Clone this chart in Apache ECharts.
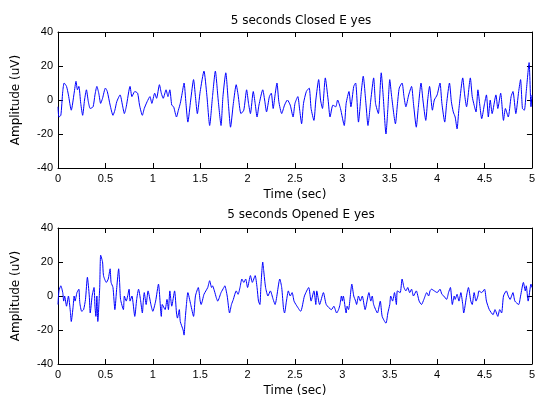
<!DOCTYPE html>
<html>
<head>
<meta charset="utf-8">
<title>EEG</title>
<script src="https://cdn.jsdelivr.net/npm/echarts@6/dist/echarts.min.js"></script>
<style>
    html, body { margin: 0; padding: 0; background: #fff; }
    #main { width: 538px; height: 398px; }
</style>
</head>
<body>
<div id="main"></div>
<script>
// 坐标轴刻度
var timeTicks = [0, 0.5, 1, 1.5, 2, 2.5, 3, 3.5, 4, 4.5, 5];
var ampTicks = [-40, -20, 0, 20, 40];

var titles = ['5 seconds Closed E yes', '5 seconds Opened E yes'];

// 闭眼 [时间(s), 幅值(uV)]
var closedEyes = [
    [0.00, -4], [0.01, -10], [0.03, -9], [0.05, 5], [0.065, 10], [0.09, 8], [0.11, 3], [0.14, -6],
    [0.17, 4], [0.19, 11], [0.205, 6], [0.22, 8], [0.24, -2], [0.26, -9], [0.28, 0], [0.30, 6],
    [0.32, -1], [0.34, -5], [0.37, -4], [0.39, 3], [0.41, 8], [0.43, 4], [0.45, -2], [0.47, 1],
    [0.50, 7], [0.52, 5], [0.55, -3], [0.58, -9], [0.60, -6], [0.62, -1], [0.655, 3], [0.68, -3],
    [0.70, -8], [0.72, -4], [0.76, 8], [0.78, 2], [0.81, 5], [0.84, 4], [0.86, -3], [0.89, -9],
    [0.91, -5], [0.94, -1], [0.97, 2], [0.99, -2], [1.02, 4], [1.04, 1], [1.07, 9], [1.09, 4],
    [1.11, 1], [1.14, 6], [1.16, 2], [1.18, 6], [1.20, -3], [1.22, -4], [1.25, -10], [1.27, -6],
    [1.29, -2], [1.31, 4], [1.33, 10], [1.35, -2], [1.37, -13], [1.40, 0], [1.43, 12], [1.45, 2],
    [1.47, -8], [1.50, 5], [1.54, 17], [1.57, 3], [1.60, -15], [1.63, 2], [1.66, 17], [1.69, 0],
    [1.72, -15], [1.74, 2], [1.77, 16], [1.80, -4], [1.82, -16], [1.85, -2], [1.88, 9], [1.90, 3],
    [1.93, -8], [1.96, -6], [1.99, 6], [2.01, -2], [2.03, -8], [2.06, 5], [2.08, -2], [2.10, -10],
    [2.12, -3], [2.16, 6], [2.18, 0], [2.20, -7], [2.23, 2], [2.25, 4], [2.27, -5], [2.29, 3],
    [2.31, 10], [2.33, -1], [2.36, -8], [2.39, -3], [2.42, 0], [2.45, -3], [2.48, -10], [2.50, -2],
    [2.53, 2], [2.55, -6], [2.57, -14], [2.59, -2], [2.62, 5], [2.65, 7], [2.67, -5], [2.70, -12],
    [2.72, 0], [2.75, 12], [2.77, 0], [2.79, -5], [2.82, 13], [2.85, 0], [2.87, -10], [2.90, -3],
    [2.93, -4], [2.95, 0], [2.98, -5], [3.02, -15], [3.04, -2], [3.07, 5], [3.09, -4], [3.12, 8],
    [3.14, 10], [3.17, -13], [3.20, 5], [3.22, 14], [3.25, -3], [3.27, -15], [3.30, 0], [3.33, 13],
    [3.35, -2], [3.38, -8], [3.41, 16], [3.43, 3], [3.46, -20], [3.48, -5], [3.50, 12], [3.52, 2],
    [3.56, -14], [3.58, -3], [3.60, 7], [3.63, 10], [3.65, 2], [3.67, -4], [3.70, 3], [3.73, 8],
    [3.75, -2], [3.78, -16], [3.80, -5], [3.83, 10], [3.85, 0], [3.88, -12], [3.90, 0], [3.92, 8],
    [3.95, -6], [3.97, 0], [4.00, 3], [4.03, 10], [4.05, -2], [4.08, -13], [4.10, -2], [4.13, 10],
    [4.15, -1], [4.17, -7], [4.19, -10], [4.21, -17], [4.23, -5], [4.27, 13], [4.29, 3], [4.31, -4],
    [4.35, 13], [4.37, 2], [4.39, -3], [4.41, -7], [4.43, 6], [4.45, -3], [4.47, -11], [4.50, -2],
    [4.52, 3], [4.54, -10], [4.56, 0], [4.58, -8], [4.62, 3], [4.64, -5], [4.67, 4], [4.70, -12],
    [4.72, -5], [4.75, -10], [4.78, 2], [4.80, 5], [4.83, -8], [4.86, 5], [4.88, 12], [4.90, -5],
    [4.92, -6], [4.94, 5], [4.97, 22], [4.99, -4], [5.00, 3]
];

// 睁眼 [时间(s), 幅值(uV)]
var openedEyes = [
    [0.00, -5], [0.01, 3], [0.03, 6], [0.05, 2], [0.06, -3], [0.07, 0], [0.09, -6], [0.11, 0],
    [0.13, -9], [0.14, -15], [0.16, -6], [0.17, 0], [0.18, -3], [0.20, 2], [0.22, 4], [0.23, -4],
    [0.25, -9], [0.27, -8], [0.29, -2], [0.31, 11], [0.33, 0], [0.34, -10], [0.36, 0], [0.38, 5],
    [0.39, -6], [0.40, -12], [0.41, 0], [0.42, -15], [0.44, 5], [0.45, 24], [0.47, 20], [0.48, 12],
    [0.51, 8], [0.53, 10], [0.55, 16], [0.56, 8], [0.58, 5], [0.60, -8], [0.62, 5], [0.64, 16],
    [0.65, 8], [0.66, -2], [0.69, -8], [0.70, 0], [0.72, -3], [0.735, 0], [0.75, 4], [0.76, -3],
    [0.78, 0], [0.81, -12], [0.83, -2], [0.85, 4], [0.87, -2], [0.89, -10], [0.90, -3], [0.91, 2],
    [0.93, -5], [0.95, 3], [0.98, -5], [1.00, -9], [1.03, -3], [1.06, 7], [1.09, -12], [1.10, -5],
    [1.13, -8], [1.15, -2], [1.165, -8], [1.18, 3], [1.20, -6], [1.23, 3], [1.25, -10], [1.26, -13],
    [1.28, -8], [1.29, -15], [1.32, -20], [1.33, -23], [1.34, -15], [1.355, -5], [1.37, 2], [1.40, -5],
    [1.43, -12], [1.45, 0], [1.48, 5], [1.50, -3], [1.51, -5], [1.54, 1], [1.56, 3], [1.58, 5],
    [1.60, 9], [1.62, 5], [1.63, 6], [1.65, 3], [1.67, -1], [1.685, -3], [1.72, 2], [1.75, 5],
    [1.76, 6], [1.785, 0], [1.81, -10], [1.83, -5], [1.85, -2], [1.86, 0], [1.88, 3], [1.90, 1],
    [1.92, 5], [1.94, 10], [1.96, 8], [1.98, 10], [2.00, 5], [2.03, 12], [2.05, 8], [2.08, 12],
    [2.10, 5], [2.115, -3], [2.13, -5], [2.14, 5], [2.16, 20], [2.17, 15], [2.19, 5], [2.215, 0],
    [2.24, 3], [2.27, -2], [2.29, -5], [2.34, 10], [2.36, 5], [2.38, -8], [2.39, -10], [2.41, -3],
    [2.43, 3], [2.45, 0], [2.47, 2], [2.49, -3], [2.51, -5], [2.56, -9], [2.60, 0], [2.645, 5],
    [2.67, -3], [2.70, 3], [2.72, -5], [2.73, 3], [2.76, -5], [2.80, 2], [2.83, -5], [2.885, -8],
    [2.91, -6], [2.94, -10], [2.96, -8], [2.975, -5], [2.99, 0], [3.00, -3], [3.01, 0], [3.04, -10],
    [3.05, -6], [3.065, -8], [3.10, 7], [3.12, 0], [3.14, -3], [3.15, -5], [3.17, 0], [3.19, -3],
    [3.21, 0], [3.24, -8], [3.28, 2], [3.30, -3], [3.315, 0], [3.33, -5], [3.37, -10], [3.40, -3],
    [3.42, -12], [3.46, -16], [3.48, -10], [3.50, -5], [3.51, 0], [3.53, -3], [3.55, 2], [3.57, -5],
    [3.58, 3], [3.61, 2], [3.63, 10], [3.65, 5], [3.67, 3], [3.69, 5], [3.71, 2], [3.73, 4],
    [3.75, 0], [3.78, 3], [3.81, -3], [3.835, -5], [3.86, -2], [3.89, 2], [3.91, 0], [3.925, 3],
    [3.94, 4], [3.97, 3], [4.00, 2], [4.03, 4], [4.05, 1], [4.07, 0], [4.10, -2], [4.12, 2],
    [4.14, 5], [4.16, -5], [4.18, 0], [4.19, -2], [4.21, 1], [4.23, -3], [4.25, 2], [4.27, -5],
    [4.28, -10], [4.31, 0], [4.33, 5], [4.355, -3], [4.37, -5], [4.39, 2], [4.41, -3], [4.43, 0],
    [4.44, 3], [4.47, 2], [4.50, 4], [4.52, -3], [4.55, -8], [4.59, -11], [4.61, -8], [4.64, -12],
    [4.66, -8], [4.68, -10], [4.70, 0], [4.73, 3], [4.75, 0], [4.77, -2], [4.785, 0], [4.80, 2],
    [4.82, -3], [4.86, -5], [4.88, 0], [4.91, 8], [4.93, 3], [4.94, 6], [4.96, -3], [4.99, 7],
    [5.00, 5]
];

var fontFamily = '"Liberation Sans", Arial, sans-serif';
var wideFont = '"DejaVu Sans", sans-serif';

// 底部时间轴
function timeAxis(gridIndex) {
    return {
        type: 'value',
        gridIndex: gridIndex,
        min: timeTicks[0],
        max: timeTicks[timeTicks.length - 1],
        interval: 0.5,
        name: 'Time (sec)',
        nameLocation: 'middle',
        nameGap: 21,
        nameTextStyle: { color: '#000', fontSize: 12, fontFamily: wideFont },
        axisLine: { onZero: false, lineStyle: { color: '#000', width: 1 } },
        axisTick: { inside: true, length: 5, lineStyle: { color: '#000' } },
        axisLabel: { color: '#000', fontSize: 11, fontFamily: fontFamily, margin: 5 },
        splitLine: { show: false }
    };
}

// 上边框（只画刻度）
function topAxis(gridIndex) {
    return {
        type: 'value',
        gridIndex: gridIndex,
        position: 'top',
        min: timeTicks[0],
        max: timeTicks[timeTicks.length - 1],
        interval: 0.5,
        axisLine: { onZero: false, lineStyle: { color: '#000', width: 1 } },
        axisTick: { inside: true, length: 5, lineStyle: { color: '#000' } },
        axisLabel: { show: false },
        splitLine: { show: false }
    };
}

function ampAxis(gridIndex) {
    return {
        type: 'value',
        gridIndex: gridIndex,
        min: ampTicks[0],
        max: ampTicks[ampTicks.length - 1],
        interval: 20,
        name: 'Amplitude (uV)',
        nameLocation: 'middle',
        nameGap: 36,
        nameTextStyle: { color: '#000', fontSize: 12, fontFamily: wideFont },
        axisLine: { onZero: false, lineStyle: { color: '#000', width: 1 } },
        axisTick: { inside: true, length: 5, lineStyle: { color: '#000' } },
        axisLabel: { color: '#000', fontSize: 11, fontFamily: fontFamily, margin: 5 },
        splitLine: { show: false }
    };
}

function rightAxis(gridIndex) {
    return {
        type: 'value',
        gridIndex: gridIndex,
        position: 'right',
        min: ampTicks[0],
        max: ampTicks[ampTicks.length - 1],
        interval: 20,
        axisLine: { show: true, onZero: false, lineStyle: { color: '#000', width: 1 } },
        axisTick: { show: true, inside: true, length: 5, lineStyle: { color: '#000' } },
        axisLabel: { show: false },
        splitLine: { show: false }
    };
}

var dom = document.getElementById('main');
var myChart = echarts.init(dom, null, { renderer: 'canvas' });

var option = {
    animation: false,
    backgroundColor: '#fff',
    title: [
        {
            text: titles[0], left: 296, top: 10, textAlign: 'center',
            textStyle: { color: '#000', fontSize: 12, fontWeight: 'normal', fontFamily: wideFont }
        },
        {
            text: titles[1], left: 296, top: 204, textAlign: 'center',
            textStyle: { color: '#000', fontSize: 12, fontWeight: 'normal', fontFamily: wideFont }
        }
    ],
    grid: [
        { left: 58, top: 32, width: 477, height: 136 },
        { left: 58, top: 228, width: 477, height: 136 }
    ],
    xAxis: [timeAxis(0), timeAxis(1), topAxis(0), topAxis(1)],
    yAxis: [ampAxis(0), ampAxis(1), rightAxis(0), rightAxis(1)],
    series: [
        {
            type: 'line',
            xAxisIndex: 0,
            yAxisIndex: 0,
            data: closedEyes,
            showSymbol: false,
            smooth: 0.2,
            lineStyle: { color: '#0000ff', width: 1 },
            itemStyle: { color: '#0000ff' }
        },
        {
            type: 'line',
            xAxisIndex: 1,
            yAxisIndex: 1,
            data: openedEyes,
            showSymbol: false,
            smooth: 0.2,
            lineStyle: { color: '#0000ff', width: 1 },
            itemStyle: { color: '#0000ff' }
        }
    ]
};

myChart.setOption(option, true);
</script>
</body>
</html>
